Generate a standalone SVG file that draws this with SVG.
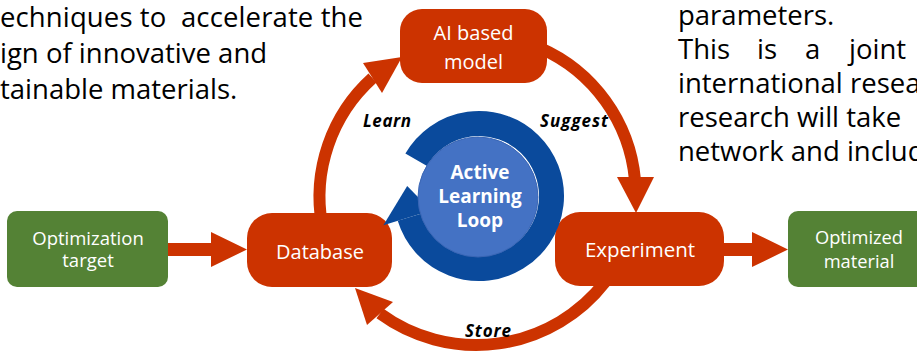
<svg xmlns="http://www.w3.org/2000/svg" width="917" height="352" viewBox="0 0 917 352">
<style>
.body{font-family:"Open Sans","Noto Sans",sans-serif;font-size:27.5px;fill:#000}
.lbl{font-family:"Open Sans","Noto Sans",sans-serif;fill:#fff;text-anchor:middle}
.it{font-family:"Open Sans","Noto Sans",sans-serif;font-size:17px;font-weight:bold;font-style:italic;fill:#000}
.red{fill:#CC3300}
.green{fill:#548235}
.arc{fill:none;stroke:#CC3300;stroke-width:12}
.loop{font-family:"Open Sans","Noto Sans",sans-serif;font-size:19px;font-weight:bold;fill:#fff;text-anchor:middle}
</style>
<rect width="917" height="352" fill="#fff"/>
<g id="text-left">
<text class="body" x="0" y="27" xml:space="preserve" textLength="363">echniques to  accelerate the</text>
<text class="body" x="0" y="63">ign of innovative and</text>
<text class="body" x="0" y="99">tainable materials.</text>
</g>
<g id="text-right">
<text class="body" x="678" y="25">parameters.</text>
<text class="body" y="59"><tspan x="678">This</tspan><tspan x="757">is</tspan><tspan x="805">a</tspan><tspan x="849">joint</tspan></text>
<text class="body" x="678" y="93">international resea</text>
<text class="body" x="678" y="127">research will take</text>
<text class="body" x="678" y="161">network and includ</text>
</g>
<g id="connectors">
<path class="arc" d="M322,225 A160,160 0 0 1 372.5,78"/>
<polygon class="red" points="402,57 363,63 382,93"/>
<path class="arc" d="M540,48 A160,160 0 0 1 635,180"/>
<polygon class="red" points="636,213 617,177 654,177"/>
<path class="arc" d="M605,282 A163,163 0 0 1 380,313.5"/>
<polygon class="red" points="355,288 393,302 367,325"/>
<polygon class="red" points="166,243 211,243 211,232 247,249.5 211,267 211,256 166,256"/>
<polygon class="red" points="722,243 752,243 752,232 788,249.5 752,267 752,256 722,256"/>
</g>
<g id="labels">
<text class="it" x="363" y="127" textLength="48">Learn</text>
<text class="it" x="540" y="127" textLength="68">Suggest</text>
<text class="it" x="465" y="337" textLength="46">Store</text>
</g>
<g id="node-ai">
<rect class="red" x="400" y="9" width="147" height="74" rx="22"/>
<text class="lbl" x="473.5" y="40" font-size="20">AI based</text>
<text class="lbl" x="473.5" y="69" font-size="20">model</text>
</g>
<g id="node-database">
<rect class="red" x="247" y="213" width="145" height="74" rx="25"/>
<text class="lbl" x="320" y="259" font-size="20">Database</text>
</g>
<g id="node-experiment">
<rect class="red" x="555" y="212" width="169" height="74" rx="25"/>
<text class="lbl" x="640" y="257" font-size="20.5">Experiment</text>
</g>
<g id="node-target">
<rect class="green" x="7" y="211" width="161" height="76" rx="10"/>
<text class="lbl" x="88" y="245" font-size="18.5">Optimization</text>
<text class="lbl" x="88" y="267" font-size="18.5">target</text>
</g>
<g id="node-optimized">
<rect class="green" x="788" y="211" width="142" height="76" rx="10"/>
<text class="lbl" x="859" y="244" font-size="18.3">Optimized</text>
<text class="lbl" x="859" y="268" font-size="18.3">material</text>
</g>
<g id="node-loop">
<path d="M416.21,159.75 A72.5,72.5 0 1 1 409.67,217.2" fill="none" stroke="#0A4A9C" stroke-width="25"/>
<polygon points="383.37,225.24 431.19,210.62 407.2,185.9" fill="#0A4A9C"/>
<circle cx="478" cy="197" r="60" fill="#4472C4" stroke="#3A66B5" stroke-width="1"/>
<text class="loop" x="480" y="179">Active</text>
<text class="loop" x="480" y="203">Learning</text>
<text class="loop" x="480" y="227">Loop</text>
</g>
</svg>
